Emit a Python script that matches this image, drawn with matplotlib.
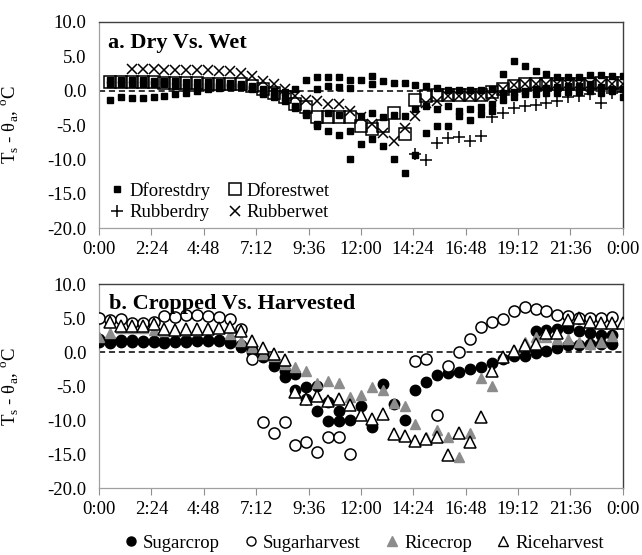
import numpy as np
import matplotlib
matplotlib.use('Agg')
import matplotlib.pyplot as plt
from matplotlib.lines import Line2D

plt.rcParams['font.family'] = 'serif'
plt.rcParams['font.serif'] = ['Liberation Serif', 'DejaVu Serif']
plt.rcParams['mathtext.fontset'] = 'custom'
plt.rcParams['mathtext.rm'] = 'Liberation Serif'
plt.rcParams['axes.unicode_minus'] = False

nan = np.nan

# --- panel a: half-hourly, 0:30 .. 24:00 -------------------------------------
hours_a = np.arange(1, 49) * 0.5

# Dforestdry has several days of data (same marker, one legend entry)
dforestdry_1 = [1.6, 1.5, 1.5, 1.5, 1.4, 1.4, 1.4, 1.3, 1.3, 1.2, 1.2, 1.1,
                0.9, 0.7, 0.3, 0.0,
                -0.2, 0.3, 1.5, 1.9, 2.0, 1.9, 1.5, 1.5, 2.1, 1.4, 1.1, 1.1,
                0.75, 0.65, 0.4, 0.1, 0.1, 0.1, 0.1, 0.2,
                2.4, 4.3, 3.6, 2.9, 2.35, 2.0, 1.9, 1.95, 2.25, 2.3, 2.1, 2.1]
dforestdry_2 = [-1.3, -1.0, -1.1, -1.1, -0.9, -0.8, -0.5, -0.3, -0.1, 0.2, 0.4, 0.5,
                0.6, 0.4, -0.3, -1.0,
                -1.5, -2.5, -3.5, -5.2, -3.2, -3.5, -5.9, -3.7, -3.2, -3.9, -3.6, -3.7,
                -2.7, -2.2, -2.7, -2.25, -2.9, -2.7, -2.4, -2.0,
                -1.3, -1.0, -0.55, -0.5, -0.4, -0.3, -0.2, -0.2, -0.1, -0.3, 0.0, -1.0]
dforestdry_3 = [1.0, 1.0, 1.0, 1.0, 0.9, 0.9, 0.6, 0.5, 0.5, 0.6, 0.7, 0.7,
                0.5, 0.2, -0.5, -0.8,
                -1.0, -2.2, -3.2, -4.8, -5.9, -6.4, -10.0, -7.8, -7.1, -8.1, -10.0, -11.9,
                -9.3, -6.1, -5.2, -5.15, -3.7, -4.2, -3.45, -3.0,
                -0.3, -0.2, 0.0, 0.2, 0.4, 0.5, 0.6, 0.7, 0.9, 0.5, 0.3, 0.3]
dforestdry_4 = [nan] * 19 + [0.3, 0.6, 0.5, 0.4, nan, 1.0] + [nan] * 23
dforestwet = [1.2, 1.2, 1.2, 1.2, 1.2, 1.1, 1.1, 1.1, 1.1, 1.0, 1.0, 1.0,
              0.9, 0.6, 0.2, -0.3,
              -0.9, -2.0, -2.4, -3.9, -3.9, -3.9, -3.9, -5.2, -5.6, -5.1, -3.2, -6.3,
              -1.3, -0.8, -0.6, -0.6, -0.6, -0.6, -0.6, -0.2,
              0.2, 0.65, 0.9, 0.9, 0.9, 0.9, 1.0, 1.0, 1.0, 1.1, 1.1, 1.1]
rubberdry = [nan] * 28 + [-9.2, -10.1, -7.6, -6.9, -6.8, -7.3, -6.6, -3.9,
                          -3.2, -2.5, -2.3, -2.1, -1.8, -1.5, -1.0, -0.8, -0.55, -1.8, -0.3, -0.2]
rubberwet = [nan, nan, 3.1, 3.1, 3.1, 3.0, 3.0, 3.0, 3.0, 3.0, 2.9, 2.9,
             2.6, 2.1, 1.4, 0.9,
             0.2, -0.8, -1.3, -1.5, -2.0, -2.0, -3.0, -3.9, -4.9, -6.1, -7.3, -5.4,
             -3.7, -1.8, -1.5, -0.8, -0.8, -0.8, -0.8, -0.8,
             0.3, 0.8, 0.9, 0.9, 0.9, 1.0, 1.0, 1.0, 1.0, 1.0, 1.0, 1.0]

# --- panel b: sugar / rice crop 0:00 .. 23:30, rice harvest 0:30 .. 24:00 -----
hours_b = np.arange(0, 48) * 0.5
hours_rh = np.arange(1, 49) * 0.5

sugarcrop_1 = [1.5, 1.4, 1.5, 1.5, 1.5, 1.5, 1.4, 1.5, 1.5, 1.6, 1.6, 1.6,
               1.4, 0.8, 0.3, -0.3, -1.2, -3.7, -5.6, -6.9, -8.6, -10.1, -10.1, -10.0,
               -7.9, -11.0, -4.65, -7.6, -10.0, -5.5, -4.3, -3.4, -3.0, -2.9, -2.5, -2.15,
               -1.6, -1.0, -0.6, -0.5, -0.15, 0.25, 0.7, 1.0, 1.1, 1.2, 1.2, 1.2]
sugarcrop_2 = [1.9, 1.8, 1.8, 1.8, 1.7, 1.7, 1.7, 1.7, 1.8, 1.8, 1.8, 1.8,
               1.6, 1.1, 0.0, -0.7, -2.0, -2.8, -3.2, -5.1, -5.0, -7.35, -8.6, nan,
               nan, nan, nan, nan, nan, nan, nan, nan, nan, nan, nan, nan,
               nan, nan, nan, nan, 3.2, 3.3, 3.4, 3.6, 3.2, 2.8, 2.5, 2.5]
sugarharvest = [5.05, 4.75, 4.9, 4.3, 4.3, 4.4, 5.4, 5.25, 5.5, 5.5, 5.4, 5.25,
                4.9, 3.4, -1.0, -10.3, -11.8, -10.3, -13.7, -13.2, -14.7, -12.5, -12.5, -14.9,
                nan, nan, nan, nan, nan, -1.3, -1.0, -9.2, -2.0, 0.0, 2.0, 3.7,
                4.4, 4.9, 6.1, 6.6, 6.3, 6.0, 5.5, 5.4, 5.05, 5.05, 5.05, 5.2]
ricecrop = [2.2, 2.9, 3.5, 3.5, 3.6, 3.3, 3.2, 3.3, 3.3, 3.3, 3.5, 3.6,
            2.7, 1.7, 0.8, -0.25, -0.6, -1.7, -2.2, -2.7, -4.5, -4.2, -4.5, -6.6,
            -6.3, -5.1, -5.5, -7.5, -7.9, -10.5, -12.4, -11.4, -12.5, -15.4, -11.9, -3.8,
            -5.0, -0.7, 0.3, 1.5, 2.2, 2.2, 2.0, 2.0, 1.5, 1.2, 1.5, 2.4]
riceharvest = [4.4, 3.9, 3.9, 3.9, 4.2, 3.4, 3.3, 3.4, 3.4, 3.4, 3.6, 3.7,
               3.2, 1.7, 0.7, -0.3, -1.2, -5.9, -6.9, -6.4, -7.1, -6.9, -7.8, -9.2,
               -9.8, -9.1, -12.0, -12.3, -13.0, -12.7, -12.5, -15.1, -11.9, -13.2, -9.5, -2.8,
               -0.7, 0.2, 1.0, 1.2, 2.9, 2.9, 4.8, 5.0, 4.5, 4.3, 4.3, 4.3]

xtick_hours = np.arange(0, 24.01, 2.4)
ylabel = r'T$_\mathregular{s}$ - θ$_\mathregular{a}$, $^\mathregular{o}$C'
FS = 13.5


def hhmm(h):
    m = int(round(h * 60))
    return f'{(m // 60) % 24}:{m % 60:02d}'


def style_axes(ax):
    ax.set_xlim(0, 24)
    ax.set_ylim(-20, 10)
    ax.set_xticks(xtick_hours)
    ax.set_xticklabels([hhmm(h) for h in xtick_hours])
    ax.set_yticks(np.arange(-20, 10.1, 5))
    ax.set_yticklabels([f'{v:.1f}' for v in np.arange(-20, 10.1, 5)])
    ax.tick_params(axis='x', direction='out', length=5, width=0.8, color='#909090',
                   labelsize=FS, pad=4)
    ax.tick_params(axis='y', length=0, labelsize=FS, pad=9)
    for s in ['left', 'bottom']:
        ax.spines[s].set_color('#a0a0a0')
        ax.spines[s].set_linewidth(0.9)
    for s in ['top', 'right']:
        ax.spines[s].set_color('#404040')
        ax.spines[s].set_linewidth(1.0)
    ax.axhline(0, color='black', ls=(0, (4, 2.5)), lw=1.1, zorder=1)
    ax.set_ylabel(ylabel, fontsize=FS)
    ax.yaxis.set_label_coords(-0.148, 0.5)


fig = plt.figure(figsize=(6.42, 5.55), dpi=100)
ax1 = fig.add_axes([0.1542, 0.5886, 0.8159, 0.3723])
ax2 = fig.add_axes([0.1542, 0.1202, 0.8159, 0.3676])

# panel a -----------------------------------------------------------------
for d in [dforestdry_1, dforestdry_2, dforestdry_3, dforestdry_4]:
    ax1.plot(hours_a, d, ls='none', marker='s', ms=5, color='black', zorder=3)
ax1.plot(hours_a, dforestwet, ls='none', marker='s', ms=8.5, mfc='none',
         mec='black', mew=1.1, zorder=4)
ax1.plot(hours_a, rubberdry, ls='none', marker='+', ms=8, mew=1.1, color='black', zorder=5)
ax1.plot(hours_a, rubberwet, ls='none', marker='x', ms=7.5, mew=1.1, color='black', zorder=5)
style_axes(ax1)
ax1.text(0.018, 0.871, 'a. Dry Vs. Wet', transform=ax1.transAxes, fontsize=16,
         fontweight='bold', va='baseline', ha='left')

h_a = [Line2D([], [], ls='none', marker='s', ms=5, color='black'),
       Line2D([], [], ls='none', marker='+', ms=8, mew=1.1, color='black'),
       Line2D([], [], ls='none', marker='s', ms=8.5, mfc='none', mec='black', mew=1.1),
       Line2D([], [], ls='none', marker='x', ms=7.5, mew=1.1, color='black')]
ax1.legend(h_a, ['Dforestdry', 'Rubberdry', 'Dforestwet', 'Rubberwet'], ncol=2,
           loc='lower left', bbox_to_anchor=(-0.005, -0.03), frameon=False,
           fontsize=FS, handlelength=0.8, handletextpad=0.25, columnspacing=0.9,
           labelspacing=0.25, borderaxespad=0.3)

# panel b -----------------------------------------------------------------
for d in [sugarcrop_1, sugarcrop_2]:
    ax2.plot(hours_b, d, ls='none', marker='o', ms=7.5, color='black', zorder=3)
ax2.plot(hours_b, sugarharvest, ls='none', marker='o', ms=8, mfc='white',
         mec='black', mew=1.1, zorder=4)
ax2.plot(hours_b, ricecrop, ls='none', marker='^', ms=7.5, color='#8c8c8c',
         mec='#8c8c8c', zorder=5)
ax2.plot(hours_rh, riceharvest, ls='none', marker='^', ms=8, mfc='white',
         mec='black', mew=1.1, zorder=6)
style_axes(ax2)
ax2.text(0.02, 0.881, 'b. Cropped Vs. Harvested', transform=ax2.transAxes, fontsize=16,
         fontweight='bold', va='baseline', ha='left', zorder=10)

h_b = [Line2D([], [], ls='none', marker='o', ms=6.5, color='black'),
       Line2D([], [], ls='none', marker='o', ms=6.5, mfc='white', mec='black', mew=1.0),
       Line2D([], [], ls='none', marker='^', ms=6.5, color='#8c8c8c'),
       Line2D([], [], ls='none', marker='^', ms=6.5, mfc='white', mec='black', mew=1.0)]
fig.legend(h_b, ['Sugarcrop', 'Sugarharvest', 'Ricecrop', 'Riceharvest'], ncol=4,
           loc='center', bbox_to_anchor=(0.567, 1 - 543 / 555), frameon=False,
           fontsize=FS, handlelength=0.7, handletextpad=0.3, columnspacing=1.3)

fig.savefig('out.png', dpi=100)
